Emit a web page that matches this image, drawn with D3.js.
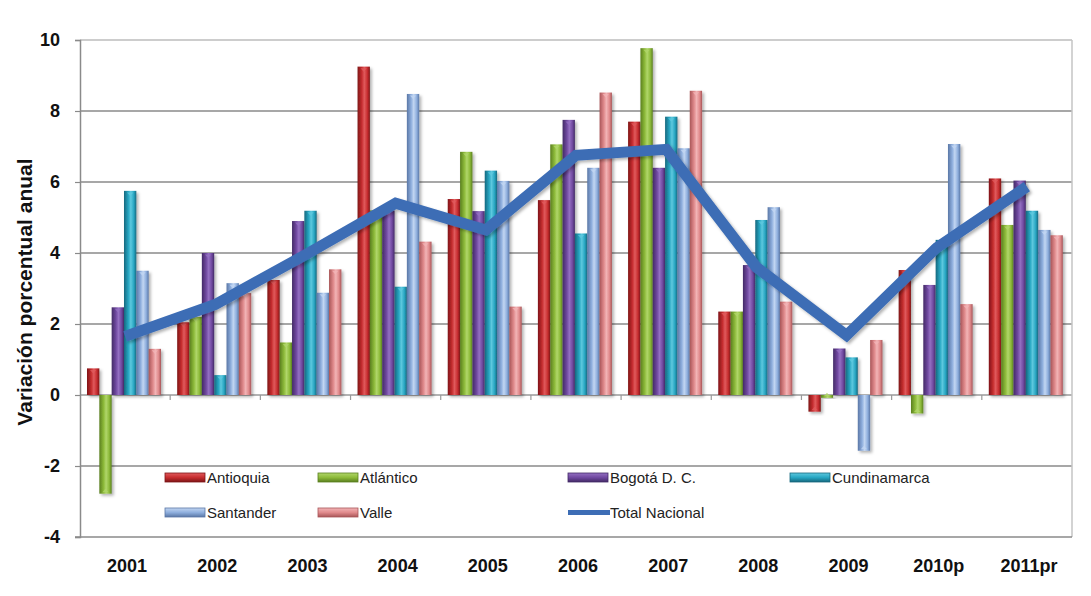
<!DOCTYPE html>
<html><head><meta charset="utf-8">
<script src="https://cdn.jsdelivr.net/npm/d3@7"></script>
<style>
html,body{margin:0;padding:0;background:#fff;}
svg{display:block;}
</style></head>
<body>
<script>
const categories = ["2001","2002","2003","2004","2005","2006","2007","2008","2009","2010p","2011pr"];
const seriesNames = ["Antioquia","Atlántico","Bogotá D. C.","Cundinamarca","Santander","Valle"];
const antioquia    = [0.75, 2.05, 3.24, 9.25, 5.52, 5.49, 7.7, 2.35, -0.47, 3.52, 6.1];
const atlantico    = [-2.78, 2.2, 1.48, 5.2, 6.85, 7.06, 9.77, 2.35, -0.08, -0.52, 4.79];
const bogota       = [2.47, 4.0, 4.9, 5.2, 5.18, 7.75, 6.4, 3.66, 1.31, 3.1, 6.04];
const cundinamarca = [5.75, 0.56, 5.19, 3.05, 6.32, 4.55, 7.84, 4.93, 1.06, 4.37, 5.19];
const santander    = [3.5, 3.15, 2.88, 8.48, 6.03, 6.4, 6.95, 5.29, -1.57, 7.07, 4.65];
const valle        = [1.3, 2.87, 3.54, 4.32, 2.49, 8.52, 8.57, 2.63, 1.55, 2.56, 4.5];
const totalNacional = [1.65, 2.55, 3.95, 5.4, 4.65, 6.75, 6.92, 3.6, 1.68, 4.15, 5.87];
const yTicks = [-4,-2,0,2,4,6,8,10];
const seriesValues = [antioquia, atlantico, bogota, cundinamarca, santander, valle];
const colors = [
  {mid:"#C62D2F", dark:"#7E1517", light:"#E05A5C"},
  {mid:"#8DBA3A", dark:"#5A7F1F", light:"#B0D66A"},
  {mid:"#7049A0", dark:"#432A66", light:"#9470C2"},
  {mid:"#27A6C2", dark:"#16687E", light:"#5DC8DE"},
  {mid:"#8EAEDD", dark:"#5A77A6", light:"#C2D6F2"},
  {mid:"#E08A8C", dark:"#A85558", light:"#F2B4B6"}
];
const lineColor = "#3D6DB5";

const W = 1091, H = 596;
const pL = 80, pR = 1072, pT = 40, pB = 537;
const FONT = "Liberation Sans, Arial, sans-serif";

const svg = d3.select("body").append("svg").attr("width", W).attr("height", H);
const defs = svg.append("defs");
colors.forEach((c,i)=>{
  const g = defs.append("linearGradient").attr("id","g"+i).attr("x1","0").attr("x2","1").attr("y1","0").attr("y2","0");
  g.append("stop").attr("offset","0%").attr("stop-color",c.dark);
  g.append("stop").attr("offset","35%").attr("stop-color",c.mid);
  g.append("stop").attr("offset","55%").attr("stop-color",c.light);
  g.append("stop").attr("offset","80%").attr("stop-color",c.mid);
  g.append("stop").attr("offset","100%").attr("stop-color",c.dark);
});
const f = defs.append("filter").attr("id","sh").attr("x","-30%").attr("y","-10%").attr("width","180%").attr("height","130%");
f.append("feDropShadow").attr("dx",2).attr("dy",2).attr("stdDeviation",1.5).attr("flood-color","#000").attr("flood-opacity",0.3);

const y = d3.scaleLinear().domain([-4,10]).range([pB, pT]);
const x0 = d3.scaleBand().domain(categories).range([pL, pR]).padding(0);
const x1 = d3.scaleBand().domain(d3.range(6)).range([7, 81]).padding(0);

svg.append("g").selectAll("line").data(yTicks.filter(t=>t!==-4 && t!==10)).join("line")
  .attr("x1", pL).attr("x2", pR).attr("y1", d=>y(d)).attr("y2", d=>y(d))
  .attr("stroke", d=> d===0 ? "#9a9a9a" : "#8a8a8a").attr("stroke-width", 1.5);
svg.append("line").attr("x1",pL).attr("x2",pR).attr("y1",y(10)).attr("y2",y(10)).attr("stroke","#bdbdbd").attr("stroke-width",1.5);
svg.append("line").attr("x1",pR).attr("x2",pR).attr("y1",y(10)).attr("y2",pB).attr("stroke","#c4c4c4").attr("stroke-width",1.5);

const yAxis = svg.append("g").attr("transform",`translate(${pL},0)`)
  .call(d3.axisLeft(y).tickValues(yTicks).tickSize(5).tickPadding(15).tickFormat(d=>String(d)));
yAxis.select(".domain").attr("stroke","#8a8a8a").attr("stroke-width",1.5);
yAxis.selectAll(".tick line").attr("stroke","#8a8a8a").attr("stroke-width",1.2);
yAxis.selectAll("text").attr("font-family",FONT).attr("font-weight","bold")
  .attr("font-size",18).attr("fill","#111");
svg.append("line").attr("x1",pL-5).attr("x2",pR).attr("y1",pB).attr("y2",pB).attr("stroke","#8a8a8a").attr("stroke-width",1.5);

svg.append("g").selectAll("line").data(categories.slice(1)).join("line")
  .attr("x1", d=>x0(d)).attr("x2", d=>x0(d)).attr("y1", y(0)).attr("y2", y(0)+5)
  .attr("stroke","#9a9a9a").attr("stroke-width",1.2);

svg.append("g").selectAll("text").data(categories).join("text")
  .attr("x", d=>x0(d)+x0.bandwidth()/2+2).attr("y", 572)
  .attr("text-anchor","middle").attr("font-family",FONT)
  .attr("font-weight","bold").attr("font-size",18).attr("fill","#111").text(d=>d);

svg.append("text").attr("transform",`translate(32,292) rotate(-90)`)
  .attr("text-anchor","middle").attr("font-family",FONT)
  .attr("font-weight","bold").attr("font-size",21).attr("fill","#111").text("Variación porcentual anual");

const bars = svg.append("g");
seriesValues.forEach((vals, si)=>{
  const g = bars.append("g");
  g.selectAll("rect").data(vals.map((v,ci)=>({v, c:categories[ci]}))).join("rect")
    .attr("x", d=>x0(d.c)+x1(si))
    .attr("y", d=>Math.min(y(d.v), y(0)))
    .attr("width", x1.bandwidth())
    .attr("height", d=>Math.abs(y(d.v)-y(0)))
    .attr("fill", `url(#g${si})`)
    .attr("filter","url(#sh)");
  g.selectAll("path").data(vals.map((v,ci)=>({v, c:categories[ci]}))).join("path")
    .attr("d", d=>{
      const bx = x0(d.c)+x1(si), bw = x1.bandwidth(), yy = y(d.v);
      const dir = d.v >= 0 ? 1 : -1;
      return `M${bx+3},${yy+dir*1.5}L${bx+bw-3},${yy+dir*1.5}L${bx+bw/2},${yy+dir*5}Z`;
    })
    .attr("fill", colors[si].light).attr("opacity",0.8);
});

const line = d3.line().x((d,i)=>x0(categories[i])+x0.bandwidth()/2).y(d=>y(d));
svg.append("path").datum(totalNacional).attr("d", line)
  .attr("fill","none").attr("stroke", lineColor).attr("stroke-width", 11)
  .attr("stroke-linejoin","miter").attr("filter","url(#sh)");

const legendItems = [
  {name:seriesNames[0], type:"bar", ci:0, x:165, y:473},
  {name:seriesNames[1], type:"bar", ci:1, x:318, y:473},
  {name:seriesNames[2], type:"bar", ci:2, x:568, y:473},
  {name:seriesNames[3], type:"bar", ci:3, x:790, y:473},
  {name:seriesNames[4], type:"bar", ci:4, x:165, y:508},
  {name:seriesNames[5], type:"bar", ci:5, x:318, y:508},
  {name:"Total Nacional", type:"line", x:568, y:508}
];
colors.forEach((c,i)=>{
  const g = defs.append("linearGradient").attr("id","v"+i).attr("x1","0").attr("x2","0").attr("y1","0").attr("y2","1");
  g.append("stop").attr("offset","0%").attr("stop-color",c.light);
  g.append("stop").attr("offset","50%").attr("stop-color",c.mid);
  g.append("stop").attr("offset","100%").attr("stop-color",c.dark);
});
const lg = svg.append("g").selectAll("g").data(legendItems).join("g").attr("transform",d=>`translate(${d.x},${d.y})`);
lg.each(function(d){
  const s = d3.select(this);
  if (d.type === "bar") {
    s.append("rect").attr("x",0).attr("y",0).attr("width",40).attr("height",9)
      .attr("fill",`url(#v${d.ci})`).attr("stroke",colors[d.ci].dark).attr("stroke-width",0.8);
  } else {
    s.append("line").attr("x1",0).attr("x2",42).attr("y1",4.5).attr("y2",4.5)
      .attr("stroke",lineColor).attr("stroke-width",5);
  }
  s.append("text").attr("x",42).attr("y",10).attr("font-family","Liberation Sans Narrow, Arial Narrow, Liberation Sans, sans-serif")
    .attr("font-stretch","condensed").attr("font-size",15).attr("fill","#222").text(d.name);
});
</script>
</body></html>
